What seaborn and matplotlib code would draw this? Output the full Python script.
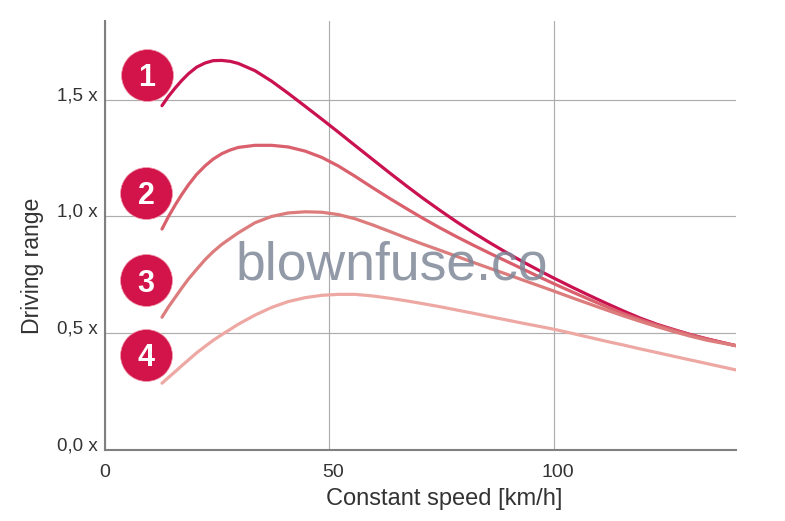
#!/usr/bin/env python3

import pandas as pd
import seaborn as sns
import matplotlib.pyplot as plt
from matplotlib.transforms import ScaledTranslation

speed = [12.8, 14.2, 15.7, 17.2, 18.7, 20.5, 22.4, 24.2, 26.1, 28.0, 29.8, 33.5, 37.2, 40.9, 44.7, 48.4, 52.1, 55.8,
         59.8, 63.6, 67.3, 70.9, 74.7, 78.4, 82.1, 85.9, 89.6, 93.2, 97.0, 99.9, 104.3, 108.1, 111.9, 115.5, 119.3,
         123.1, 126.6, 130.4, 134.2, 140.6]
range_1 = [1.475, 1.514, 1.550, 1.583, 1.612, 1.640, 1.658, 1.668, 1.669, 1.665, 1.656, 1.625, 1.580, 1.528, 1.472,
           1.417, 1.361, 1.304, 1.243, 1.185, 1.130, 1.078, 1.026, 0.977, 0.931, 0.886, 0.844, 0.805, 0.766, 0.737,
           0.695, 0.660, 0.626, 0.595, 0.564, 0.537, 0.516, 0.494, 0.475, 0.446]
range_2 = [0.946, 0.998, 1.048, 1.094, 1.136, 1.180, 1.217, 1.246, 1.269, 1.285, 1.296, 1.305, 1.305, 1.298, 1.280,
           1.253, 1.216, 1.172, 1.122, 1.076, 1.033, 0.992, 0.951, 0.913, 0.877, 0.841, 0.807, 0.774, 0.739, 0.713,
           0.675, 0.643, 0.612, 0.584, 0.558, 0.534, 0.514, 0.493, 0.474, 0.446]
range_3 = [0.568, 0.611, 0.652, 0.693, 0.732, 0.773, 0.815, 0.849, 0.880, 0.906, 0.930, 0.973, 1.000, 1.015, 1.020,
           1.018, 1.008, 0.990, 0.963, 0.935, 0.907, 0.881, 0.855, 0.829, 0.803, 0.777, 0.752, 0.727, 0.701, 0.681,
           0.650, 0.624, 0.598, 0.574, 0.550, 0.527, 0.507, 0.487, 0.469, 0.446]
range_4 = [0.285, 0.309, 0.334, 0.360, 0.385, 0.415, 0.443, 0.469, 0.493, 0.516, 0.538, 0.577, 0.610, 0.635, 0.652,
           0.662, 0.666, 0.666, 0.659, 0.649, 0.638, 0.626, 0.613, 0.599, 0.585, 0.570, 0.556, 0.542, 0.528, 0.517,
           0.498, 0.481, 0.464, 0.449, 0.432, 0.416, 0.401, 0.385, 0.369, 0.342]
badge_labels = ['1', '2', '3', '4']
x_ticks = [0, 50, 100]
y_ticks = [0.0, 0.5, 1.0, 1.5]
y_tick_labels = ['0,0 x', '0,5 x', '1,0 x', '1,5 x']

W, H = 785, 521
DPI = 100

sns.set_theme(style='white')
plt.rcParams['font.family'] = ['Liberation Sans', 'DejaVu Sans']

df = pd.DataFrame({'speed': speed, '1': range_1, '2': range_2, '3': range_3, '4': range_4})
df = df.melt(id_vars='speed', var_name='curve', value_name='driving')

colors = {'1': '#c9124f', '2': '#d9606c', '3': '#dc7c7c', '4': '#eea8a4'}

fig = plt.figure(figsize=(W / DPI, H / DPI), dpi=DPI)
ax = fig.add_axes([104.5 / W, 1 - 449.7 / H, (736 - 104.5) / W, (449.7 - 21) / H])

sns.lineplot(data=df, x='speed', y='driving', hue='curve', palette=colors, linewidth=2.3,
             legend=False, ax=ax, zorder=4, estimator=None, sort=False, solid_joinstyle='round')

ax.set_xlim(0, 140.6)
ax.set_ylim(0, 1.838)

# Grid and axis lines
ax.grid(True, color='#adadad', linewidth=0.85)
ax.set_axisbelow(True)
ax.spines['right'].set_visible(False)
ax.spines['top'].set_visible(False)
ax.spines['left'].set_color('#808080')
ax.spines['bottom'].set_color('#808080')
ax.spines['left'].set_linewidth(1.5)
ax.spines['bottom'].set_linewidth(1.5)

ax.set_xticks(x_ticks)
ax.set_yticks(y_ticks)
ax.set_yticklabels(y_tick_labels)
ax.tick_params(axis='x', length=0, pad=10, labelsize=14, labelcolor='#333333')
ax.tick_params(axis='y', length=0, pad=34, labelsize=13.5, labelcolor='#333333')

# Tick labels sit a little off their grid lines in the original
for lab in ax.get_yticklabels():
    lab.set_ha('left')
    lab.set_transform(lab.get_transform() + ScaledTranslation(0, 6 / DPI, fig.dpi_scale_trans))
for lab in ax.get_xticklabels()[1:]:
    lab.set_transform(lab.get_transform() + ScaledTranslation(4 / DPI, 0, fig.dpi_scale_trans))

ax.set_xlabel('Constant speed [km/h]', fontsize=17, color='#333333')
ax.xaxis.set_label_coords((444 - 104.5) / (736 - 104.5), -(499 - 449.7) / (449.7 - 21), transform=ax.transAxes)
ax.xaxis.label.set_va('center')
ax.set_ylabel('Driving range', fontsize=16.6, color='#333333')
ax.yaxis.set_label_coords(-(104.5 - 32) / (736 - 104.5), (449.7 - 266) / (449.7 - 21), transform=ax.transAxes)
ax.yaxis.label.set_va('center')

# Numbered badges, placed in pixels of the figure
badge_px = [(147, 75), (146.5, 193), (146, 280), (146, 355)]
for lab, (px, py) in zip(badge_labels, badge_px):
    xd, yd = ax.transData.inverted().transform((px, H - py))
    ax.scatter([xd], [yd], s=1400, color='#d2144a', edgecolor='#f0a0b0', linewidth=0.5, zorder=3, clip_on=False)
    ax.text(xd, yd, lab, color='white', fontsize=22, fontweight='bold', ha='center', va='center_baseline', zorder=5)

# Watermark over the curves
fig.text(392 / W, 1 - 266 / H, 'blownfuse.co', fontsize=38.5, color='#7f8899', alpha=0.85,
         ha='center', va='center', zorder=10)

fig.savefig('out.png', dpi=DPI)
